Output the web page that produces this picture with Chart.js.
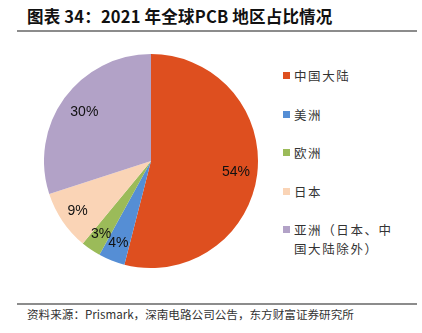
<!DOCTYPE html>
<html><head><meta charset="utf-8">
<script src="https://cdn.jsdelivr.net/npm/chart.js@4/dist/chart.umd.min.js"></script>
<style>
html,body{margin:0;padding:0;background:#fff;width:422px;height:333px;overflow:hidden;font-family:"Noto Sans CJK SC","Noto Sans",sans-serif;}
#title{position:absolute;left:27px;top:4px;font-size:16.5px;font-weight:bold;color:#111;white-space:nowrap;letter-spacing:0.2px;}
#tline{position:absolute;left:17px;top:30px;width:400px;height:2px;background:#8c8c8c;}
#bline{position:absolute;left:17px;top:303px;width:400px;height:2px;background:#8c8c8c;}
#foot{position:absolute;left:27px;top:306px;font-size:11.6px;color:#333;white-space:nowrap;}
#pie{position:absolute;left:44px;top:54px;width:214px;height:214px;}
#legend{position:absolute;left:283px;top:0;}
.li{position:absolute;left:0;width:130px;font-size:12.5px;line-height:19px;color:#333;letter-spacing:1.6px;}
.sq{position:absolute;left:0;top:6px;width:7px;height:7px;}
.tx{position:absolute;left:11px;top:0;width:104px;}
</style></head>
<body>
<div id="title">图表 34：2021 年全球PCB 地区占比情况</div>
<div id="tline"></div>
<div id="pie"><canvas id="c" width="214" height="214"></canvas></div>
<div id="legend"></div>
<div id="bline"></div>
<div id="foot">资料来源：Prismark，深南电路公司公告，东方财富证券研究所</div>
<script>
const categories = ["中国大陆", "美洲", "欧洲", "日本", "亚洲（日本、中国大陆除外）"];
const shares = [54, 4, 3, 9, 30];
const colors = ["#DE4F1F", "#558ED5", "#9BBB59", "#FAD4B6", "#B2A2C7"];
const legendTops = [66, 105, 143, 182, 220];

const leg = document.getElementById('legend');
categories.forEach((c, i) => {
  const d = document.createElement('div');
  d.className = 'li';
  d.style.top = legendTops[i] + 'px';
  d.innerHTML = '<div class="sq" style="background:' + colors[i] + '"></div><div class="tx">' + c + '</div>';
  leg.appendChild(d);
});

const labelPlugin = {
  id: 'pctLabels',
  afterDatasetsDraw(chart) {
    const ctx = chart.ctx;
    const meta = chart.getDatasetMeta(0);
    ctx.save();
    ctx.font = '14px "Liberation Sans Narrow", "Liberation Sans", Arial, sans-serif';
    ctx.fillStyle = '#111';
    ctx.textAlign = 'center';
    ctx.textBaseline = 'middle';
    meta.data.forEach((arc, i) => {
      const p = arc.getProps(['x', 'y', 'startAngle', 'endAngle', 'outerRadius'], true);
      const mid = (p.startAngle + p.endAngle) / 2;
      const r = p.outerRadius * (i === 0 ? 0.8 : (i === 4 ? 0.77 : 0.83));
      ctx.fillText(shares[i] + '%', p.x + Math.cos(mid) * r, p.y + Math.sin(mid) * r);
    });
    ctx.restore();
  }
};

new Chart(document.getElementById('c'), {
  type: 'pie',
  data: {
    labels: categories,
    datasets: [{
      data: shares,
      backgroundColor: colors,
      borderWidth: 0,
      hoverOffset: 0
    }]
  },
  options: {
    responsive: false,
    animation: false,
    events: [],
    layout: { padding: 0 },
    plugins: { legend: { display: false }, tooltip: { enabled: false } }
  },
  plugins: [labelPlugin]
});
</script>
</body></html>
